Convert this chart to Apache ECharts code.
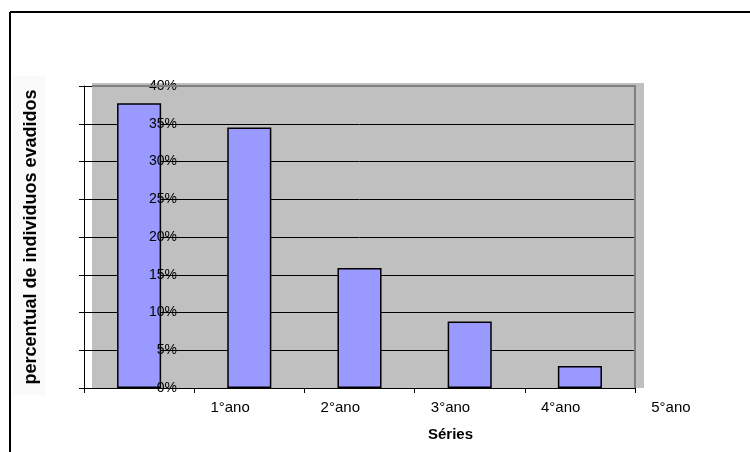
<!DOCTYPE html>
<html>
<head>
<meta charset="utf-8">
<script src="https://cdn.jsdelivr.net/npm/echarts@6/dist/echarts.min.js"></script>
<style>
  html, body { margin: 0; padding: 0; background: #fff; }
  #chart { width: 750px; height: 452px; }
</style>
</head>
<body>
<div id="chart"></div>
<script>
  // dados
  const series = ['1°ano', '2°ano', '3°ano', '4°ano', '5°ano'];
  const evadidos = [0.377, 0.345, 0.159, 0.088, 0.029];
  const yTicks = { min: 0, max: 0.4, interval: 0.05 };

  const font = '"Liberation Sans", Arial, sans-serif';
  const pct = v => Math.round(v * 100) + '%';

  const myChart = echarts.init(document.getElementById('chart'));
  const option = {
    animation: false,
    textStyle: { fontFamily: font },
    grid: { left: 84, right: 115, top: 86, bottom: 64 },
    graphic: [
      // moldura externa (so topo e esquerda aparecem)
      { type: 'line', z: 100, shape: { x1: 10, y1: 12, x2: 750, y2: 12 }, style: { stroke: '#000', lineWidth: 2 } },
      { type: 'line', z: 100, shape: { x1: 10, y1: 12, x2: 10, y2: 452 }, style: { stroke: '#000', lineWidth: 2 } },
      // fundo do titulo do eixo y
      { type: 'rect', z: -2, shape: { x: 13, y: 76, width: 33, height: 319 }, style: { fill: '#fafafa' } },
      // area de plotagem cinza (deslocada, como no original)
      { type: 'rect', z: -1, shape: { x: 92, y: 83, width: 552, height: 305 }, style: { fill: '#C0C0C0' } },
      // borda superior/direita
      { type: 'polyline', z: 100, shape: { points: [[92, 86], [635, 86], [635, 388]] }, style: { stroke: '#808080', lineWidth: 2, fill: null } }
    ],
    xAxis: {
      type: 'category',
      data: series,
      name: 'Séries',
      nameLocation: 'middle',
      nameGap: 39,
      nameTextStyle: { color: '#000', fontSize: 15, fontWeight: 'bold', padding: [0, 0, 0, 182] },
      axisLine: { lineStyle: { color: '#000', width: 1 } },
      axisTick: { show: true, length: 5, lineStyle: { color: '#000' } },
      axisLabel: { color: '#000', fontSize: 15, margin: 12, padding: [0, 0, 0, 182] },
      splitLine: { show: false }
    },
    yAxis: [
      {
        type: 'value',
        min: yTicks.min,
        max: yTicks.max,
        interval: yTicks.interval,
        name: 'percentual de individuos evadidos',
        nameLocation: 'middle',
        nameRotate: 90,
        nameGap: 44,
        nameTextStyle: { color: '#000', fontSize: 18, fontWeight: 'bold' },
        axisLine: { show: true, lineStyle: { color: '#000', width: 1 } },
        axisTick: { show: true, length: 5, lineStyle: { color: '#000' } },
        axisLabel: { show: false },
        splitLine: { show: true, lineStyle: { color: '#000', width: 1 } }
      },
      {
        // so os rotulos, deslocados para dentro da area
        type: 'value',
        position: 'left',
        offset: -93,
        z: 10,
        min: yTicks.min,
        max: yTicks.max,
        interval: yTicks.interval,
        axisLine: { show: false },
        axisTick: { show: false },
        splitLine: { show: false },
        axisLabel: { color: '#000', fontSize: 14, margin: 0, formatter: pct }
      }
    ],
    series: [
      {
        type: 'bar',
        data: evadidos,
        barWidth: '40%',
        itemStyle: { color: '#9999FF', borderColor: '#000', borderWidth: 1.5 }
      }
    ]
  };
  myChart.setOption(option);
</script>
</body>
</html>
